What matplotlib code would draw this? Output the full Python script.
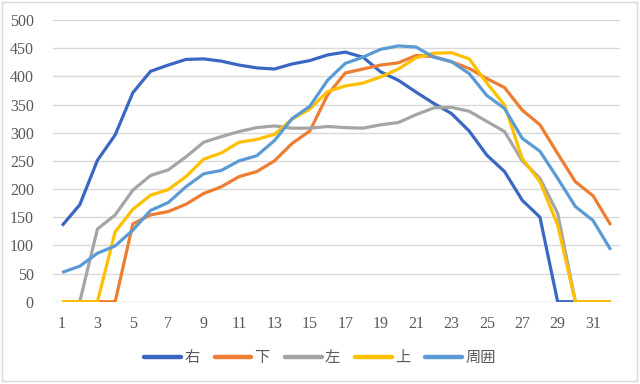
import matplotlib
matplotlib.use("Agg")
import matplotlib.pyplot as plt
from matplotlib.patches import Rectangle

x = list(range(1, 33))
xticks = list(range(1, 32, 2))
yticks = list(range(0, 501, 50))

names = ["右", "下", "左", "上", "周囲"]
colors = ["#3A67C2", "#ED7D31", "#A5A5A5", "#FFC000", "#5B9BD5"]

migi = [135, 172, 251, 296, 371, 409, 420, 430, 431, 427,
        420, 415, 413, 422, 428, 438, 443, 434, 408, 393,
        372, 352, 334, 303, 260, 231, 180, 150, 0, 0, 0, 0]
shita = [0, 0, 0, 0, 138, 154, 160, 173, 192, 204,
         222, 231, 250, 281, 303, 367, 406, 413, 420, 424,
         437, 435, 426, 414, 396, 380, 340, 314, 263, 213, 188, 136]
hidari = [0, 0, 129, 154, 198, 224, 234, 257, 283, 293,
          302, 309, 312, 308, 308, 311, 309, 308, 314, 318,
          332, 344, 345, 338, 320, 302, 250, 219, 157, 0, 0, 0]
ue = [0, 0, 0, 124, 164, 189, 199, 222, 253, 264,
      283, 288, 297, 324, 342, 373, 383, 388, 399, 413,
      433, 441, 442, 431, 388, 349, 254, 213, 136, 0, 0, 0]
shui = [52, 63, 86, 99, 127, 162, 176, 204, 227, 233,
        250, 259, 286, 325, 347, 393, 423, 434, 448, 454,
        452, 434, 426, 405, 366, 343, 290, 267, 219, 169, 144, 92]

series = [migi, shita, hidari, ue, shui]

text_color = "#595959"
grid_color = "#D9D9D9"

fig = plt.figure(figsize=(6.4, 3.84), dpi=100)
fig.patch.set_facecolor("white")
ax = fig.add_axes([53.2 / 640, (384 - 301.7) / 384, (619.6 - 53.2) / 640, (301.7 - 20) / 384])

for i, (name, vals, c) in enumerate(zip(names, series, colors)):
    ax.plot(x, vals, color=c, lw=2.3, label=name, zorder=3 + i,
            solid_joinstyle="round", solid_capstyle="butt")

ax.set_xlim(0.5, 32.5)
ax.set_ylim(0, 500)
ax.set_yticks(yticks)
ax.set_xticks(xticks)
ax.yaxis.grid(True, color=grid_color, lw=1.0, zorder=0)
ax.set_axisbelow(True)
for s in ax.spines.values():
    s.set_visible(False)
ax.axhline(0, color=grid_color, lw=1.0, zorder=1)
ax.tick_params(axis="both", length=0, colors=text_color)
ax.tick_params(axis="y", pad=14)
ax.tick_params(axis="x", pad=10)
for lab in ax.get_xticklabels() + ax.get_yticklabels():
    lab.set_fontfamily("Liberation Serif")
    lab.set_fontsize(11.5)
    lab.set_color(text_color)

leg = fig.legend(loc="center", bbox_to_anchor=(0.5, 1 - 357.5 / 384), ncol=5,
                 frameon=False, handlelength=2.4, handletextpad=0.2,
                 columnspacing=1.0,
                 prop={"family": ["Noto Sans CJK JP", "DejaVu Sans"], "size": 11})
for t in leg.get_texts():
    t.set_color(text_color)
for h in leg.get_lines():
    h.set_linewidth(3.2)
    h.set_solid_capstyle("round")

fig.patches.append(Rectangle((1.5 / 640, 1 - 380.5 / 384), 635 / 640, 379 / 384,
                             transform=fig.transFigure, fill=False,
                             edgecolor=grid_color, lw=1.0))

fig.savefig("out.png", dpi=100, facecolor="white")
